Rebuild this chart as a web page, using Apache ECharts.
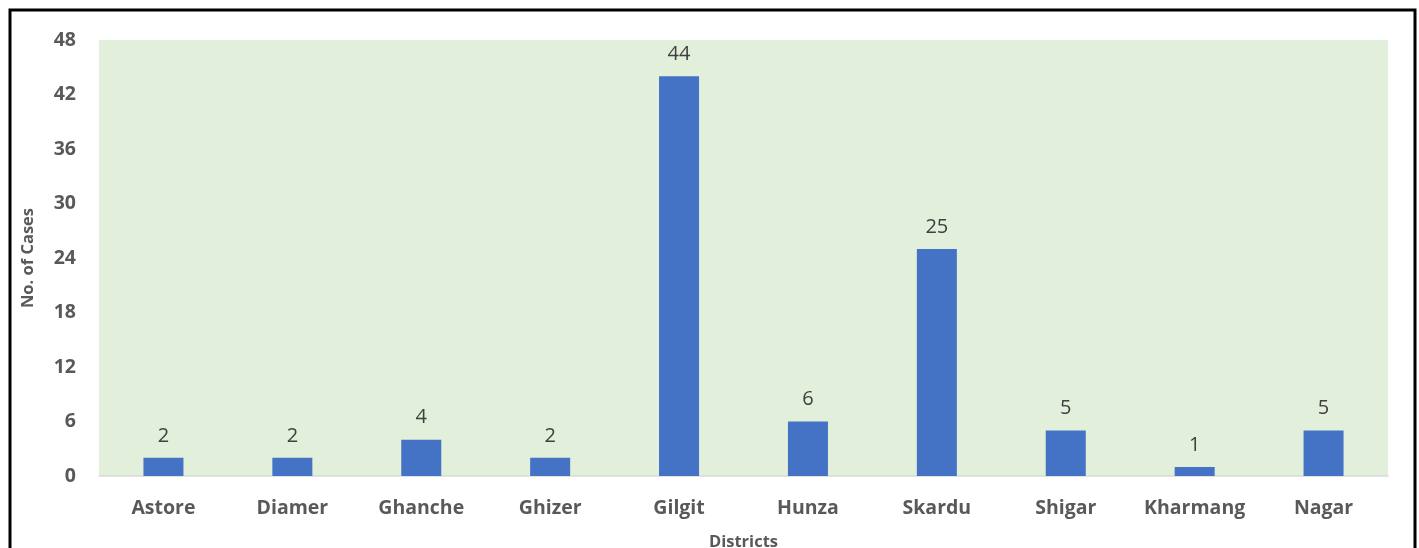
<!DOCTYPE html>
<html>
<head>
<meta charset="utf-8">
<script src="https://cdn.jsdelivr.net/npm/echarts@6/dist/echarts.min.js"></script>
<style>
  html, body { margin: 0; padding: 0; background: #fff; }
  #chart { width: 1419px; height: 548px; }
</style>
</head>
<body>
<div id="chart"></div>
<script>
const districts = ['Astore', 'Diamer', 'Ghanche', 'Ghizer', 'Gilgit', 'Hunza', 'Skardu', 'Shigar', 'Kharmang', 'Nagar'];
const cases = [2, 2, 4, 2, 44, 6, 25, 5, 1, 5];

const chart = echarts.init(document.getElementById('chart'));
const option = {
  backgroundColor: '#ffffff',
  textStyle: { fontFamily: 'Open Sans' },
  graphic: [{
    type: 'rect',
    shape: { x: 10, y: 10, width: 1405, height: 600 },
    style: { fill: 'none', stroke: '#000', lineWidth: 3 },
    silent: true
  }],
  grid: {
    left: 99, right: 31, top: 40, bottom: 72,
    outerBoundsMode: 'none',
    containLabel: false,
    show: true, backgroundColor: '#E2EFDA', borderWidth: 0
  },
  xAxis: {
    type: 'category',
    data: districts,
    name: 'Districts',
    nameLocation: 'middle',
    nameGap: 58,
    nameTextStyle: { fontSize: 16.5, fontWeight: 'bold', color: '#595959' },
    axisLine: { lineStyle: { color: '#d9d9d9', width: 1.5 } },
    axisTick: { show: false },
    axisLabel: { interval: 0, fontSize: 19.5, fontWeight: 'bold', color: '#595959', margin: 22 }
  },
  yAxis: {
    type: 'value',
    min: 0, max: 48, interval: 6,
    name: 'No. of Cases',
    nameLocation: 'middle',
    nameGap: 62,
    nameTextStyle: { fontSize: 16.5, fontWeight: 'bold', color: '#595959' },
    splitLine: { show: false },
    axisLine: { show: false },
    axisTick: { show: false },
    axisLabel: { fontSize: 19.5, fontWeight: 'bold', color: '#595959', margin: 23 }
  },
  series: [{
    type: 'bar',
    data: cases,
    barWidth: 40,
    itemStyle: { color: '#4472C4' },
    label: { show: true, position: 'top', distance: 12, fontSize: 20, color: '#404040' }
  }]
};
chart.setOption(option);
window.addEventListener('resize', () => chart.resize());
</script>
</body>
</html>
